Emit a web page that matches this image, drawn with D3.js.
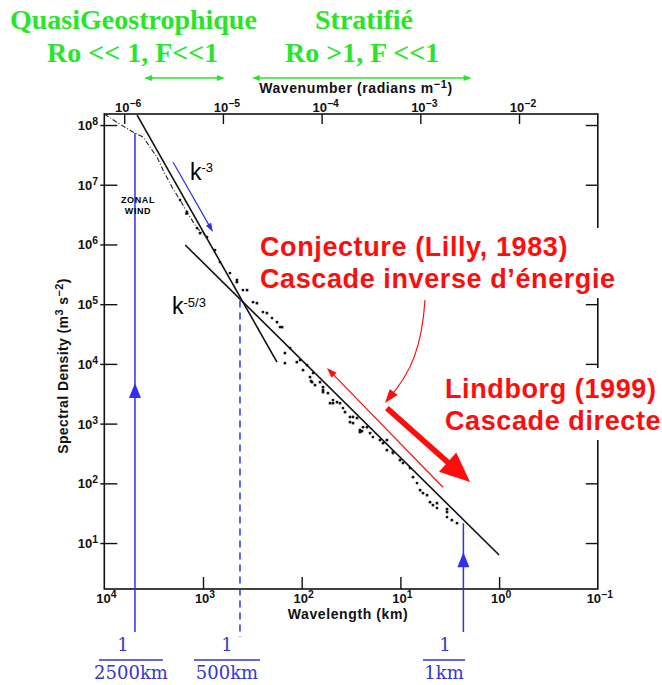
<!DOCTYPE html>
<html lang="fr">
<head>
<meta charset="utf-8">
<title>Spectre d'énergie atmosphérique</title>
<script src="https://cdn.jsdelivr.net/npm/d3@7"></script>
<style>
  body { margin: 0; background: #fff; }
  svg { display: block; }
  .sans { font-family: "Liberation Sans", Arial, sans-serif; }
</style>
</head>
<body>
<svg id="chart" width="662" height="685"></svg>
<script>
// wavelength in km, spectral density in m3 s-2
var traceLambda  = [1e4, 7260, 5120, 4055, 3444, 2925, 2543, 2061, 1709, 1452, 1151, 910, 755, 673, 533, 453, 394, 311, 247, 200, 166,
                    131, 104, 76.7, 60.8, 48.2, 38.2, 30.2, 23.9, 19.0, 15.0, 11.9, 9.42, 8.0, 7.45, 6.79, 5.90, 5.01, 4.26, 3.37, 2.67];
var traceDensity = [1.53e8, 1.08e8, 7.64e7, 6.30e7, 4.28e7, 2.91e7, 1.76e7, 9.15e6, 5.54e6, 3.49e6, 1.88e6, 1.33e6, 8.05e5, 5.07e5, 3.32e5, 2.34e5, 1.72e5, 1.08e5, 7.38e4, 5.85e4, 4.13e4,
                    1.84e4, 1.16e4, 7.02e3, 4.08e3, 2.48e3, 1.82e3, 1.29e3, 873, 594, 471, 321, 218, 180, 127, 101, 68.5, 48.4, 38.5, 27.2, 21.5];
var scatterLambda  = [1470, 1072, 148, 148, 78.5, 60.8, 48.2, 32.4, 25.7, 112, 97, 82.4, 73.3, 60.8, 51.6, 40.9, 32.4, 30.2, 25.7, 20.3, 16.1, 11.9,
                      6.32, 5.37, 4.26, 3.37, 453, 358, 284, 225, 178, 158,
                      88.3, 80.5, 65.3, 54.2, 43.9, 36.4, 27.5, 24.5, 21.8, 13.7, 13.7, 10.1, 4.68, 3.37, 3.01];
var scatterDensity = [3.3e6, 1.55e6, 1.52e4, 1.03e4, 4.95e3, 3.37e3, 2.20e3, 1.06e3, 721, 1.07e4, 7.87e3, 6.01e3, 4.42e3, 3.64e3, 2.20e3, 2.20e3, 1.29e3, 1.02e3, 778, 693, 530, 333,
                      76.9, 63.4, 46.6, 33.0, 2.54e5, 1.72e5, 1.04e5, 7.10e4, 5.01e4, 4.13e4,
                      9.55e3, 5.15e3, 4.95e3, 3.24e3, 2.29e3, 1.56e3, 1.24e3, 748, 873, 530, 360, 245, 43.2, 37.0, 24.2];

// fitted power laws
var k3Lambda = [4650, 178],  k3Density = [1.47e8, 1.07e4];
var k53Lambda = [1514, 1.0], k53Density = [9.8e5, 6.3];

// reference scales (blue lines)
var markerLambda = [4890, 422, 2.3];
var markerTop = [7.35e7, 1.15e5, 21.5];
var markerLabels = ["2500km", "500km", "1km"];

// regimes (green arrows), km
var regimeFrom = [3950, 320];
var regimeTo = [600, 1.9];

var wavelengthTicks = [1e4, 1e3, 1e2, 1e1, 1e0, 1e-1];
var wavelengthExp = ["4", "3", "2", "1", "0", "\u22121"];
var wavenumberTicks = [1e-6, 1e-5, 1e-4, 1e-3, 1e-2];
var wavenumberExp = ["\u22126", "\u22125", "\u22124", "\u22123", "\u22122"];
var densityTicks = [1e8, 1e7, 1e6, 1e5, 1e4, 1e3, 1e2, 1e1];
var densityExp = ["8", "7", "6", "5", "4", "3", "2", "1"];

var box = { l: 104.3, r: 597.8, t: 114, b: 589 };

var svg = d3.select("#chart");

var x = d3.scaleLog().domain([1e4, 1e-1]).range([box.l, box.r]);
var k = d3.scaleLog().domain([2 * Math.PI / 1e7, 2 * Math.PI / 1e2]).range([box.l, box.r]);
var y = d3.scaleLog().domain([1.7, 1.53e8]).range([box.b, box.t]);

var blue = "#2f2ff2", blueText = "#3535d0", red = "#ff0d0d", green = "#27e627";

// ----- frame & axes
svg.append("rect").attr("x", box.l).attr("y", box.t).attr("width", box.r - box.l).attr("height", box.b - box.t)
  .attr("fill", "none").attr("stroke", "#111").attr("stroke-width", 1.6);

function cleanAxis(g) {
  g.select(".domain").remove();
  g.selectAll(".tick line").attr("stroke", "#111").attr("stroke-width", 1.4);
  g.selectAll(".tick text").remove();
}

svg.append("g").attr("transform", "translate(" + (box.l - 4) + ",0)")
  .call(d3.axisLeft(y).tickValues(densityTicks).tickSize(-17).tickSizeOuter(0))
  .call(cleanAxis);
svg.append("g").attr("transform", "translate(" + box.r + ",0)")
  .call(d3.axisRight(y).tickValues(densityTicks).tickSize(-12).tickSizeOuter(0))
  .call(cleanAxis);
svg.append("g").attr("transform", "translate(0," + box.b + ")")
  .call(d3.axisBottom(x).tickValues(wavelengthTicks.slice(1, 5)).tickSize(-12).tickSizeOuter(0))
  .call(cleanAxis);
svg.append("g").attr("transform", "translate(0," + box.t + ")")
  .call(d3.axisTop(k).tickValues(wavenumberTicks).tickSize(-10).tickSizeOuter(0))
  .call(cleanAxis);

function powLabel(g, px, py, anchor, exp, size) {
  var t = g.append("text").attr("class", "sans").attr("x", px).attr("y", py)
    .attr("text-anchor", anchor).attr("font-size", size).attr("font-weight", "bold").attr("fill", "#111");
  t.append("tspan").text("10");
  t.append("tspan").attr("dy", -5).attr("font-size", size * 0.8).text(exp);
}

var labels = svg.append("g");
densityTicks.forEach(function (d, i) { powLabel(labels, 98, y(d) + 5, "end", densityExp[i], 13); });
wavelengthTicks.forEach(function (d, i) { powLabel(labels, x(d) + 2, 603, "middle", wavelengthExp[i], 13); });
wavenumberTicks.forEach(function (d, i) { powLabel(labels, k(d) + 4, 112, "middle", wavenumberExp[i], 13); });

svg.append("text").attr("class", "sans").attr("x", 348).attr("y", 619).attr("text-anchor", "middle")
  .attr("font-size", 14).attr("font-weight", "bold").attr("letter-spacing", 0.6).attr("fill", "#111")
  .text("Wavelength (km)");
var wn = svg.append("text").attr("class", "sans").attr("x", 356).attr("y", 93).attr("text-anchor", "middle")
  .attr("font-size", 14).attr("font-weight", "bold").attr("letter-spacing", 0.6).attr("fill", "#111");
wn.append("tspan").text("Wavenumber (radians m");
wn.append("tspan").attr("dy", -5).attr("font-size", 11).text("\u22121");
wn.append("tspan").attr("dy", 5).text(")");
var yl = svg.append("text").attr("class", "sans").attr("transform", "translate(68,366) rotate(-90)")
  .attr("text-anchor", "middle").attr("font-size", 14).attr("font-weight", "bold").attr("letter-spacing", 0.4).attr("fill", "#111");
yl.append("tspan").text("Spectral Density (m");
yl.append("tspan").attr("dy", -5).attr("font-size", 11).text("3");
yl.append("tspan").attr("dy", 5).text(" s");
yl.append("tspan").attr("dy", -5).attr("font-size", 11).text("\u22122");
yl.append("tspan").attr("dy", 5).text(")");

// ----- helpers
function head(g, x1, y1, x2, y2, len, wid, color) {
  var a = Math.atan2(y2 - y1, x2 - x1);
  var bx = x2 - len * Math.cos(a), by = y2 - len * Math.sin(a);
  var nx = -Math.sin(a) * wid / 2, ny = Math.cos(a) * wid / 2;
  g.append("polygon").attr("points", [[x2, y2], [bx + nx, by + ny], [bx - nx, by - ny]].join(" ")).attr("fill", color);
}
function arrow(g, x1, y1, x2, y2, color, sw, len, wid) {
  var a = Math.atan2(y2 - y1, x2 - x1);
  g.append("line").attr("x1", x1).attr("y1", y1)
    .attr("x2", x2 - len * 0.7 * Math.cos(a)).attr("y2", y2 - len * 0.7 * Math.sin(a))
    .attr("stroke", color).attr("stroke-width", sw);
  head(g, x1, y1, x2, y2, len, wid, color);
}

// ----- blue reference lines
var markers = svg.append("g");
markerLambda.forEach(function (d, i) {
  markers.append("line").attr("x1", x(d)).attr("x2", x(d)).attr("y1", y(markerTop[i])).attr("y2", i == 1 ? 637 : 632)
    .attr("stroke", blue).attr("stroke-width", 1.5).attr("stroke-dasharray", i == 1 ? "7,5" : null);
});
head(markers, x(markerLambda[0]), 420, x(markerLambda[0]), y(4.77e3), 15, 12, blue);
head(markers, x(markerLambda[2]), 590, x(markerLambda[2]), y(7.04), 15, 12, blue);

var fracX = [131, 227, 444], fracOne = [123, 227, 445], fracW = [64, 66, 42];
markerLabels.forEach(function (lab, i) {
  markers.append("text").attr("x", fracOne[i]).attr("y", 651).attr("text-anchor", "middle")
    .attr("font-family", "DejaVu Serif, serif").attr("font-size", 18).attr("fill", blueText).text("1");
  markers.append("line").attr("x1", fracX[i] - fracW[i] / 2).attr("x2", fracX[i] + fracW[i] / 2)
    .attr("y1", 660).attr("y2", 660).attr("stroke", blueText).attr("stroke-width", 1.5);
  markers.append("text").attr("x", fracX[i]).attr("y", 679).attr("text-anchor", "middle")
    .attr("font-family", "DejaVu Serif, serif").attr("font-size", 18).attr("fill", blueText).text(lab);
});

// ----- power-law lines
var line = d3.line().x(function (d) { return x(d[0]); }).y(function (d) { return y(d[1]); });
svg.append("path").attr("d", line(d3.zip(k3Lambda, k3Density))).attr("fill", "none").attr("stroke", "#111").attr("stroke-width", 1.6);
svg.append("path").attr("d", line(d3.zip(k53Lambda, k53Density))).attr("fill", "none").attr("stroke", "#111").attr("stroke-width", 1.6);

// ----- observed spectrum
var trace = d3.zip(traceLambda, traceDensity);
svg.append("path").attr("d", line(trace.slice(0, 12))).attr("fill", "none")
  .attr("stroke", "#222").attr("stroke-width", 1.1).attr("stroke-dasharray", "5,2,1,2");
svg.append("g").selectAll("circle").data(trace.slice(8)).join("circle")
  .attr("cx", function (d) { return x(d[0]); }).attr("cy", function (d) { return y(d[1]); })
  .attr("r", 1.4).attr("fill", "#111");
svg.append("g").selectAll("rect").data(d3.zip(scatterLambda, scatterDensity)).join("rect")
  .attr("x", function (d) { return x(d[0]) - 1.3; }).attr("y", function (d) { return y(d[1]) - 1.3; })
  .attr("width", 2.6).attr("height", 2.6).attr("fill", "#111");

// ----- annotations
var ann = svg.append("g");
ann.append("text").attr("class", "sans").attr("x", 138).attr("y", 203).attr("text-anchor", "middle")
  .attr("font-size", 9).attr("font-weight", "bold").attr("letter-spacing", 0.6).text("ZONAL");
ann.append("text").attr("class", "sans").attr("x", 138).attr("y", 214).attr("text-anchor", "middle")
  .attr("font-size", 9).attr("font-weight", "bold").attr("letter-spacing", 0.6).text("WIND");

var k3t = ann.append("text").attr("class", "sans").attr("x", 190).attr("y", 180).attr("font-size", 23);
k3t.append("tspan").text("k");
k3t.append("tspan").attr("dy", -8).attr("font-size", 13).text("-3");
var k53t = ann.append("text").attr("class", "sans").attr("x", 172).attr("y", 314).attr("font-size", 23);
k53t.append("tspan").text("k");
k53t.append("tspan").attr("dy", -7).attr("font-size", 13).text("-5/3");

arrow(ann, x(2013), y(2.4e7), x(793), y(1.61e6), blue, 1.2, 9, 6);

// red
arrow(ann, x(3.71), y(86), x(55.4), y(8.5e3), red, 1.2, 10, 7);
arrow(ann, x(13.7), y(1.82e3), x(1.97), y(105), red, 5.5, 30, 26);
ann.append("path").attr("d", "M425,300 C422,345 412,372 389,398").attr("fill", "none").attr("stroke", red).attr("stroke-width", 1.2);
head(ann, 400, 384, 385, 403, 14, 10, red);

ann.append("rect").attr("x", 258).attr("y", 228).attr("width", 364).attr("height", 70).attr("fill", "#fff");
ann.append("rect").attr("x", 440).attr("y", 368).attr("width", 222).attr("height", 72).attr("fill", "#fff");
[["Conjecture (Lilly, 1983)", 260, 256], ["Cascade inverse d\u2019\u00e9nergie", 260, 288],
 ["Lindborg (1999)", 445, 398], ["Cascade directe", 445, 430]].forEach(function (t) {
  ann.append("text").attr("class", "sans").attr("x", t[1]).attr("y", t[2]).attr("font-size", 27)
    .attr("letter-spacing", 0.6).attr("font-weight", "bold").attr("fill", red).text(t[0]);
});

// green regimes
var gr = svg.append("g");
[["QuasiGeostrophique", 10, 29], ["Ro << 1, F<<1", 47, 62], ["Stratifi\u00e9", 315, 29], ["Ro >1, F <<1", 285, 62]].forEach(function (t) {
  gr.append("text").attr("x", t[1]).attr("y", t[2]).attr("font-family", "Liberation Serif, Times New Roman, serif")
    .attr("font-size", 28).attr("font-weight", "bold").attr("fill", green).text(t[0]);
});
regimeFrom.forEach(function (d, i) {
  var a = x(d), b = x(regimeTo[i]);
  gr.append("line").attr("x1", a + 5).attr("x2", b - 5).attr("y1", 78).attr("y2", 78).attr("stroke", green).attr("stroke-width", 1.3);
  head(gr, b, 78, a, 78, 8, 6, green);
  head(gr, a, 78, b, 78, 8, 6, green);
});
</script>
</body>
</html>
